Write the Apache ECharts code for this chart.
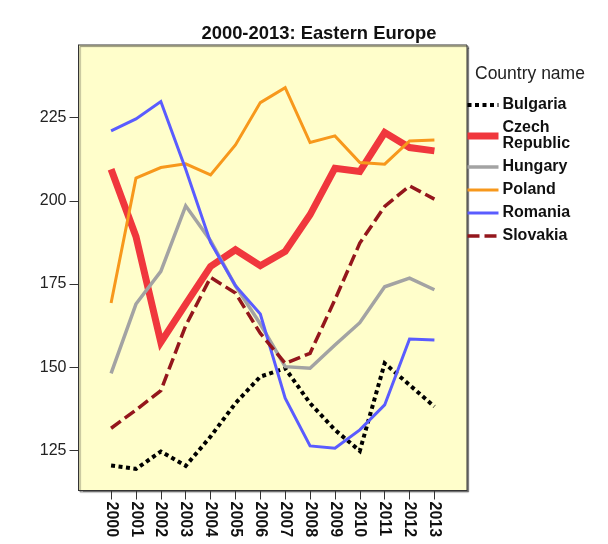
<!DOCTYPE html>
<html>
<head>
<meta charset="utf-8">
<script src="https://cdn.jsdelivr.net/npm/echarts@6/dist/echarts.min.js"></script>
<style>
    html, body { margin: 0; padding: 0; background: #fff; }
    #main { width: 608px; height: 544px; }
</style>
</head>
<body>
<div id="main"></div>
<script>
// data
var years = [2000, 2001, 2002, 2003, 2004, 2005, 2006, 2007, 2008, 2009, 2010, 2011, 2012, 2013]
var yTicks = [125, 150, 175, 200, 225]

var bulgaria = [120.5, 119.5, 124.7, 120.4, 129.2, 139.2, 147.2, 149.7, 139.2, 131.2, 124.9, 151.2, 144.7, 138.2]
var czech    = [209.5, 189.3, 157.5, 169.0, 180.3, 185.3, 180.5, 184.8, 195.8, 209.8, 208.8, 220.5, 216.0, 215.0]
var hungary  = [148.2, 169.0, 178.8, 198.5, 188.0, 174.5, 163.0, 150.2, 149.7, 156.7, 163.4, 174.2, 176.8, 173.3]
var poland   = [169.3, 206.8, 210.0, 211.1, 207.8, 216.8, 229.5, 234.0, 217.5, 219.5, 211.5, 211.0, 218.0, 218.3]
var romania  = [221.0, 224.6, 229.8, 209.5, 187.5, 174.5, 166.0, 140.7, 126.4, 125.7, 131.2, 138.7, 158.5, 158.2]
var slovakia = [131.7, 137.2, 143.0, 162.5, 177.0, 172.3, 160.2, 151.2, 154.2, 170.3, 187.3, 198.3, 204.5, 200.5]

var countries = [
    { name: 'Bulgaria', values: bulgaria, color: '#000000', width: 4, type: [4, 3.5] },
    { name: 'Czech Republic', values: czech, color: '#f0373d', width: 7, type: 'solid' },
    { name: 'Hungary', values: hungary, color: '#a3a3a3', width: 3.5, type: 'solid' },
    { name: 'Poland', values: poland, color: '#f7981c', width: 3, type: 'solid' },
    { name: 'Romania', values: romania, color: '#5a5cff', width: 3, type: 'solid' },
    { name: 'Slovakia', values: slovakia, color: '#94161c', width: 3.5, type: [12, 5] }
]

function getSeries() {
    return countries.map(function (c) {
        return {
            name: c.name,
            type: 'line',
            symbol: 'none',
            smooth: false,
            data: years.map(function (y, i) { return [y, c.values[i]] }),
            itemStyle: { color: c.color },
            lineStyle: { color: c.color, width: c.width, type: c.type, cap: 'butt', join: 'miter' }
        }
    })
}

// legend entries: line only, no symbol
function getLegendData() {
    return countries.map(function (c) {
        return {
            name: c.name,
            itemStyle: { color: 'rgba(0,0,0,0)', borderWidth: 0, opacity: 0 },
            lineStyle: { color: c.color, width: c.width, type: c.type, cap: 'butt' }
        }
    })
}

var myChart = echarts.init(document.getElementById('main'))
var option = {
    animation: false,
    textStyle: { fontFamily: 'Liberation Sans, Arial, sans-serif' },
    title: [{
        text: '2000-2013: Eastern Europe',
        left: 314,
        textAlign: 'center',
        top: 20,
        textStyle: { fontSize: 18.4, fontWeight: 'bold', color: '#111' }
    }, {
        text: 'Country name',
        left: 470,
        top: 60,
        textStyle: { fontSize: 17.5, fontWeight: 'normal', color: '#222' }
    }],
    legend: {
        orient: 'vertical',
        left: 464,
        top: 97,
        padding: 0,
        itemWidth: 31,
        itemHeight: 14,
        itemGap: 7,
        formatter: function (name) {
            return name === 'Czech Republic' ? 'Czech\nRepublic' : name
        },
        textStyle: { fontSize: 16, fontWeight: 'bold', color: '#111', lineHeight: 16, padding: [0, 0, 0, -1] },
        data: getLegendData()
    },
    grid: {
        show: true,
        left: 78.5,
        top: 45,
        right: 141,
        bottom: 53.5,
        backgroundColor: '#fffecb',
        borderColor: '#333',
        borderWidth: 1,
        shadowColor: 'rgba(0,0,0,0.45)',
        shadowOffsetX: 1.5,
        shadowOffsetY: 1.5,
        shadowBlur: 1
    },
    xAxis: {
        type: 'value',
        min: 1998.69,
        max: 2014.31,
        splitLine: { show: false },
        axisLine: { show: true, lineStyle: { color: '#333', width: 1 } },
        axisTick: { show: true, length: 9, customValues: years, lineStyle: { color: '#333' } },
        axisLabel: {
            customValues: years,
            rotate: -90,
            margin: 11,
            fontSize: 16,
            fontWeight: 'bold',
            color: '#111',
            formatter: function (v) { return String(v) }
        }
    },
    yAxis: {
        type: 'value',
        min: 113,
        max: 246.8,
        splitLine: { show: false },
        axisLine: { show: true, lineStyle: { color: '#333', width: 1 } },
        axisTick: { show: true, length: 9, customValues: yTicks, lineStyle: { color: '#333' } },
        axisLabel: {
            customValues: yTicks,
            margin: 12,
            fontSize: 16,
            color: '#222'
        }
    },
    series: getSeries()
};

myChart.setOption(option);
</script>
</body>
</html>
